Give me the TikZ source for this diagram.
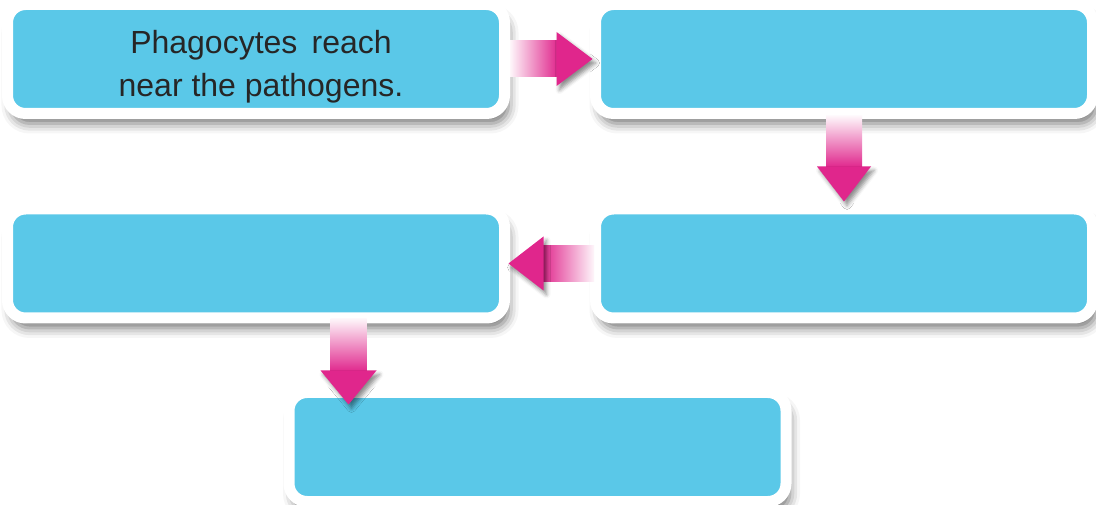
\documentclass[tikz,border=0pt]{standalone}
\usepackage{fontspec}
\setmainfont{Liberation Sans}
\usetikzlibrary{shadows.blur}
\definecolor{boxcyan}{RGB}{90,200,232}
\definecolor{arrpink}{RGB}{224,38,140}
\colorlet{arrfade}{arrpink!4!white}

\begin{document}
\begin{tikzpicture}[x=1pt,y=1pt,
    box/.style={draw=white, line width=11pt, fill=boxcyan, rounded corners=18pt,
      minimum width=497pt, minimum height=109pt, inner sep=0pt,
      blur shadow={shadow xshift=4pt, shadow yshift=-10pt, shadow blur radius=10pt, shadow opacity=55}},
    head/.style={fill=arrpink,
      blur shadow={shadow xshift=3pt, shadow yshift=-4pt, shadow blur radius=4pt, shadow opacity=45}},
    txt/.style={align=center, font=\fontsize{32}{43}\selectfont, text=black!85}]
  \useasboundingbox (0,0) rectangle (1096,504);

  % the five steps
  \node[box] (b1) at (256,445) {};
  \node[box] (b2) at (844,445) {};
  \node[box] (b3) at (844,240.5) {};
  \node[box] (b4) at (256,240.5) {};
  \node[box] (b5) at (537.5,57) {};
  \node[txt] (t1) at ([shift={(5,-8)}]b1.center) {Phagocytes\, reach\\near the pathogens.};

  % arrows: faded shaft, solid head
  \shade[left color=arrfade, right color=arrpink]
    ([yshift=18]b1.east) rectangle ([shift={(-32,-18)}]b2.west);
  \path[head] ([shift={(-33.5,27)}]b2.west) -- ([xshift=2.5]b2.west) -- ([shift={(-33.5,-27)}]b2.west) -- cycle;

  \shade[top color=arrfade, bottom color=arrpink]
    ([shift={(-18,3)}]b2.south) rectangle ([shift={(18,36)}]b3.north);
  \path[head] ([shift={(-27,37)}]b3.north) -- ([yshift=2]b3.north) -- ([shift={(27,37)}]b3.north) -- cycle;

  \shade[left color=arrpink, right color=arrfade]
    ([shift={(32,18)}]b4.east) rectangle ([shift={(4,-18)}]b3.west);
  \path[head] ([shift={(33.5,27)}]b4.east) -- ([xshift=-1.5]b4.east) -- ([shift={(33.5,-27)}]b4.east) -- cycle;

  \coordinate (c4) at ([xshift=92.5]b4.south);
  \coordinate (e4) at (c4 |- b5.north);
  \shade[top color=arrfade, bottom color=arrpink]
    ([shift={(-18,5)}]c4) rectangle ([shift={(18,15)}]e4);
  \path[head] ([shift={(-28,16.5)}]e4) -- ([yshift=-17.5]e4) -- ([shift={(28,16.5)}]e4) -- cycle;
\end{tikzpicture}
\end{document}
